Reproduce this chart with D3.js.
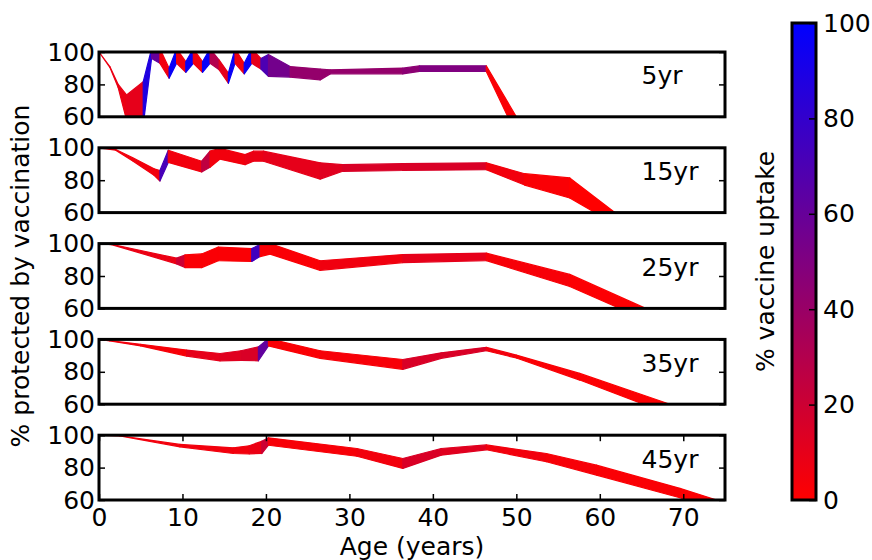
<!DOCTYPE html>
<html>
<head>
<meta charset="utf-8">
<script src="https://cdn.jsdelivr.net/npm/d3@7"></script>
<style>
  html, body { margin: 0; padding: 0; background: #fff; }
  svg text { font-family: "DejaVu Sans", sans-serif; }
</style>
</head>
<body>
<div id="chart"></div>
<script>
// AGE NODES, UPPER / LOWER % PROTECTED, UPTAKE PER SEGMENT (0..1)
const ages5 = [0, 1.3, 2.3, 3.3, 5.3, 6.3, 7.3, 8.4, 9.3, 10.4, 11.3, 12.4, 13.3, 14.4, 15.5, 16.3, 17.4, 18.3, 19.4, 20.3, 22.9, 26.5, 27.7, 36.4, 38.4, 46.4, 50];
const hi5 = [100, 91, 80, 73.5, 81.7, 102, 102, 90, 102, 94, 102, 94, 102, 95, 87, 102, 93, 102, 96, 98.5, 91, 89.5, 89, 90, 91.5, 91.5, 60];
const lo5 = [100, 90.5, 78, 58, 55, 96, 93, 83.8, 93, 87.5, 93, 87.5, 93, 89, 80.7, 93, 86.5, 93, 89.5, 85, 84.5, 82.8, 86.5, 86.5, 88, 88, 49];
const up5 = [0.08, 0.08, 0.08, 0.1, 0.88, 0.6, 0.05, 0.97, 0.05, 0.97, 0.05, 0.97, 0.3, 0.1, 0.97, 0.05, 0.97, 0.1, 0.7, 0.55, 0.42, 0.42, 0.42, 0.45, 0.5, 0.02];

const ages15 = [0, 2, 4, 6.6, 7.3, 8.3, 12.3, 13.3, 14.5, 17.5, 18.5, 19.7, 26.5, 29.2, 36.4, 46.4, 51, 56.4, 61.8];
const hi15 = [100, 99, 94, 87, 86, 98.5, 91.7, 98, 99.6, 95.8, 97.9, 97.9, 90.7, 89.6, 90.2, 90.7, 84, 81.4, 60];
const lo15 = [100, 98.5, 92, 83, 79.5, 91, 85.1, 88, 93, 89.6, 91.7, 91.7, 80.7, 85.5, 86, 86.5, 77, 69, 53];
const up15 = [0.05, 0.05, 0.05, 0.05, 0.72, 0.05, 0.25, 0.05, 0.05, 0.08, 0.08, 0.1, 0.12, 0.15, 0.15, 0.05, 0.02, 0.0];

const ages25 = [0, 1.5, 9.3, 10.3, 12.3, 14.3, 18.3, 19.3, 20.5, 26.5, 36.4, 46.4, 56.4, 65.5];
const hi25 = [100, 99.6, 91, 93, 93.6, 97.9, 96.9, 99.4, 100, 89.4, 93.2, 94.1, 81, 60];
const lo25 = [100, 99.4, 87.5, 85.2, 85.2, 89.4, 89, 92, 93.5, 83.5, 88.3, 89.5, 73.5, 53];
const up25 = [0.05, 0.08, 0.2, 0.02, 0.02, 0.02, 0.75, 0.02, 0.02, 0.06, 0.1, 0.03, 0.01];

const ages35 = [0, 1.3, 5, 10.5, 14.5, 17, 19.1, 20.3, 26.5, 36.4, 41, 46.4, 50, 57.6, 68.4];
const hi35 = [100, 99.2, 97, 93.4, 91.3, 93, 95.4, 100.5, 93, 87.6, 91.7, 95.1, 90.3, 79, 60];
const lo35 = [100, 99, 96, 89.7, 86.8, 87, 86.8, 96, 88.3, 81.5, 88.3, 93, 88.5, 74.9, 53.8];
const up35 = [0.05, 0.05, 0.03, 0.1, 0.12, 0.15, 0.62, 0.02, 0.03, 0.15, 0.15, 0.05, 0.02, 0.01];

const ages45 = [0, 2.5, 9.7, 16.1, 18, 19.5, 20.3, 30.9, 36.4, 41, 46.4, 53.6, 59.6, 69.6, 74];
const hi45 = [100, 99.6, 94.3, 92.2, 93.5, 96.3, 98.4, 91.8, 85.6, 91.8, 94, 88.7, 81.5, 67.2, 60];
const lo45 = [100, 99.5, 92.8, 88.7, 88.5, 88.7, 93.8, 87, 79.5, 87.7, 91, 83.6, 75.4, 61.4, 54];
const up45 = [0.05, 0.05, 0.05, 0.05, 0.08, 0.2, 0.03, 0.05, 0.15, 0.12, 0.05, 0.03, 0.02, 0.01];

const panelLabels = ["5yr", "15yr", "25yr", "35yr", "45yr"];
const xTicks = [0, 10, 20, 30, 40, 50, 60, 70];
const yTicks = [60, 80, 100];
const cbTicks = [0, 20, 40, 60, 80, 100];

const panels = [
  { ages: ages5, hi: hi5, lo: lo5, up: up5 },
  { ages: ages15, hi: hi15, lo: lo15, up: up15 },
  { ages: ages25, hi: hi25, lo: lo25, up: up25 },
  { ages: ages35, hi: hi35, lo: lo35, up: up35 },
  { ages: ages45, hi: hi45, lo: lo45, up: up45 }
];

// LAYOUT
const width = 872, height = 560;
const left = 99, right = 725;
const top0 = 52, step = 95.8, ph = 64.8;
const fontSize = 25;

const svg = d3.select("#chart").append("svg")
    .attr("width", width)
    .attr("height", height);

const x = d3.scaleLinear().domain([0, 75]).range([left, right]);
const color = d3.interpolateRgb("#ff0000", "#0000ff");

panels.forEach((p, k) => {
  const top = top0 + step * k;
  const y = d3.scaleLinear().domain([60, 100]).range([top + ph, top]);

  svg.append("clipPath").attr("id", "clip" + k)
    .append("rect")
      .attr("x", left).attr("y", top)
      .attr("width", right - left).attr("height", ph);

  // ONE POLYGON PER AGE SEGMENT, COLOURED BY UPTAKE
  const segs = p.up.map((u, i) => ({
    u: u,
    pts: [
      { a: p.ages[i], h: p.hi[i], l: p.lo[i] },
      { a: p.ages[i + 1], h: p.hi[i + 1], l: p.lo[i + 1] }
    ]
  }));

  const area = d3.area()
      .x(d => x(d.a))
      .y0(d => y(d.l))
      .y1(d => y(d.h));

  svg.append("g")
      .attr("clip-path", `url(#clip${k})`)
    .selectAll("path")
    .data(segs)
    .join("path")
      .attr("d", d => area(d.pts))
      .attr("fill", d => color(d.u))
      .attr("stroke", d => color(d.u))
      .attr("stroke-width", 1.2)
      .attr("stroke-linejoin", "round");

  // Y AXES, TICKS POINTING IN
  const yl = svg.append("g")
      .attr("transform", `translate(${left},0)`)
      .call(d3.axisLeft(y).tickValues(yTicks).tickSize(-6).tickPadding(4));
  const yr = svg.append("g")
      .attr("transform", `translate(${right},0)`)
      .call(d3.axisRight(y).tickValues(yTicks).tickSize(-6).tickFormat(""));
  [yl, yr].forEach(g => {
    g.select(".domain").remove();
    g.selectAll("line").attr("stroke", "#000").attr("stroke-width", 1.5);
    g.selectAll("text").attr("font-size", fontSize).attr("fill", "#000");
  });

  // X TICKS ONLY ON LAST PANEL
  if (k === panels.length - 1) {
    const xb = svg.append("g")
        .attr("transform", `translate(0,${top + ph})`)
        .call(d3.axisBottom(x).tickValues(xTicks).tickSize(-6).tickPadding(8));
    const xt = svg.append("g")
        .attr("transform", `translate(0,${top})`)
        .call(d3.axisTop(x).tickValues(xTicks).tickSize(-6).tickFormat(""));
    [xb, xt].forEach(g => {
      g.select(".domain").remove();
      g.selectAll("line").attr("stroke", "#000").attr("stroke-width", 1.5);
      g.selectAll("text").attr("font-size", fontSize).attr("fill", "#000");
    });
  }

  svg.append("rect")
      .attr("x", left).attr("y", top)
      .attr("width", right - left).attr("height", ph)
      .attr("fill", "none")
      .attr("stroke", "#000")
      .attr("stroke-width", 3);

  svg.append("text")
      .attr("x", x(65))
      .attr("y", y(80))
      .attr("font-size", fontSize)
      .text(panelLabels[k]);
});

// AXIS TITLES
svg.append("text")
    .attr("x", (left + right) / 2)
    .attr("y", 555)
    .attr("text-anchor", "middle")
    .attr("font-size", fontSize)
    .text("Age (years)");

svg.append("text")
    .attr("transform", `translate(29,${top0 + (step * 4 + ph) / 2}) rotate(-90)`)
    .attr("text-anchor", "middle")
    .attr("font-size", fontSize)
    .text("% protected by vaccination");

// COLORBAR
const cbX = 792, cbW = 24, cbTop = 23, cbBottom = 500;
const cbScale = d3.scaleLinear().domain([0, 100]).range([cbBottom, cbTop]);

const grad = svg.append("defs").append("linearGradient")
    .attr("id", "cbgrad")
    .attr("x1", 0).attr("y1", 1).attr("x2", 0).attr("y2", 0);
d3.range(0, 1.0001, 0.1).forEach(t => {
  grad.append("stop").attr("offset", t).attr("stop-color", color(t));
});

svg.append("rect")
    .attr("x", cbX).attr("y", cbTop)
    .attr("width", cbW).attr("height", cbBottom - cbTop)
    .attr("fill", "url(#cbgrad)");

const cb = svg.append("g")
    .attr("transform", `translate(${cbX + cbW},0)`)
    .call(d3.axisRight(cbScale).tickValues(cbTicks).tickSize(-7).tickPadding(7));
cb.select(".domain").remove();
cb.selectAll("line").attr("stroke", "#000").attr("stroke-width", 1.5);
cb.selectAll("text").attr("font-size", fontSize).attr("fill", "#000");

svg.append("rect")
    .attr("x", cbX).attr("y", cbTop)
    .attr("width", cbW).attr("height", cbBottom - cbTop)
    .attr("fill", "none")
    .attr("stroke", "#000")
    .attr("stroke-width", 3);

svg.append("text")
    .attr("transform", `translate(774,${(cbTop + cbBottom) / 2}) rotate(-90)`)
    .attr("text-anchor", "middle")
    .attr("font-size", fontSize)
    .text("% vaccine uptake");
</script>
</body>
</html>
